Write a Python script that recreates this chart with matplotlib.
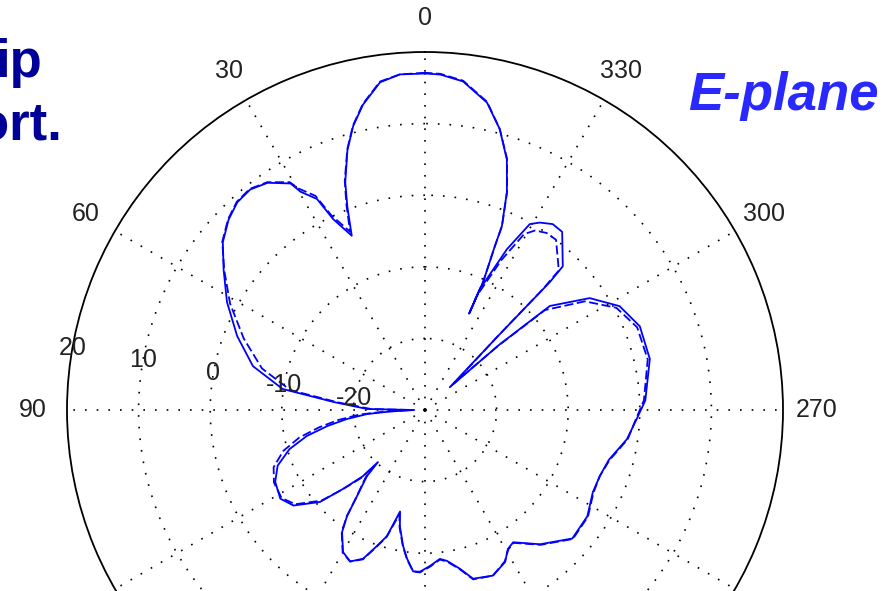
import matplotlib.pyplot as plt
import numpy as np

# E-plane pattern, angle in degrees (0 = broadside, counter-clockwise) and gain in dB
angle_deg = [0.0, 4.3, 7.8, 11.5, 14.2, 16.6, 19.3, 20.9, 22.8, 25.7, 27.1, 29.7,
             30.7, 34.7, 38.4, 42.1, 45.9, 50.3, 55.1, 61.4, 68.5, 75.7, 81.6, 85.0,
             89.0, 90.0, 92.5, 94.0, 96.6, 99.3, 102.4, 106.1, 110.7, 115.6, 121.5,
             126.0, 131.2, 133.9, 136.8, 137.9, 138.7, 141.7, 143.7, 145.8, 150.0,
             153.7, 157.4, 160.6, 163.2, 166.2, 167.8, 170.8, 173.1, 175.8, 178.2,
             181.8, 185.7, 188.3, 192.4, 195.9, 202.3, 207.8, 210.8, 213.7, 220.6,
             228.9, 236.8, 243.9, 249.3, 254.8, 261.8, 267.6, 272.5, 282.8, 291.3,
             298.1, 304.2, 309.8, 311.3, 312.6, 315.4, 315.7, 316.2, 322.4, 325.5,
             328.5, 330.6, 333.0, 335.6, 335.4, 335.6, 336.9, 337.3, 339.4, 341.9,
             345.1, 348.6, 353.4, 357.4, 360.0]

measured_db = [17.0, 17.0, 16.2, 13.5, 10.9, 7.9, 3.7, 0.4, -3.6, -0.4, 3.1, 5.1,
               6.8, 8.6, 9.3, 9.1, 8.2, 6.7, 4.3, 1.5, -1.8, -5.2, -9.9, -17.2,
               -21.9, -28.5, -25.0, -21.9, -19.0, -16.2, -13.1, -10.3, -8.0, -6.8, -6.3,
               -7.3, -10.5, -14.1, -17.3, -20.2, -17.7, -14.7, -11.6, -9.4, -7.1,
               -6.4, -7.5, -9.9, -11.6, -15.4, -13.4, -10.8, -9.1, -7.4, -7.4,
               -8.2, -9.1, -8.7, -7.3, -5.5, -5.0, -6.0, -7.4, -7.8, -5.3,
               -2.7, -2.9, -3.9, -3.9, -3.4, -1.5, -0.4, 0.8, 2.2, 2.2,
               0.8, -2.2, -7.3, -16.1, -25.3, -15.1, -5.0, -2.2, 1.4, 1.5,
               0.7, -0.2, -4.8, -11.5, -15.2, -10.3, -5.2, -2.2, 2.5, 6.8,
               10.6, 13.8, 16.2, 16.9, 17.0]

simulated_db = [17.1, 17.0, 16.3, 13.6, 11.0, 8.0, 3.9, 0.8, -3.0, 0.2, 3.6, 5.6,
                7.0, 8.7, 9.4, 9.2, 8.3, 6.8, 4.2, 1.0, -2.8, -6.5, -11.0, -17.8,
                -22.5, -28.0, -24.0, -20.8, -17.8, -15.0, -12.0, -9.4, -7.4, -6.6, -6.5,
                -7.6, -10.8, -14.0, -17.0, -19.5, -17.4, -14.6, -11.5, -9.3, -7.0,
                -6.4, -7.4, -9.8, -11.5, -15.0, -13.2, -10.7, -9.0, -7.4, -7.3,
                -8.1, -9.0, -8.6, -7.2, -5.4, -5.0, -6.1, -7.3, -7.7, -5.2,
                -2.6, -2.8, -3.8, -3.9, -3.3, -1.4, -0.5, 0.6, 1.9, 1.8,
                0.3, -3.0, -8.2, -16.5, -24.5, -15.8, -6.5, -3.0, 0.0, 0.0,
                -0.6, -1.8, -6.5, -12.5, -15.0, -10.3, -5.1, -2.1, 2.6, 6.9,
                10.6, 13.9, 16.3, 17.0, 17.1]

angle_ticks = list(range(0, 360, 30))
angle_labels = [0, 30, 60, 90, 270, 300, 330]   # the lower half falls below the figure edge
ring_levels = [-20, -10, 0, 10, 20]

fig = plt.figure(figsize=(8.85, 5.91), dpi=100)
ax = fig.add_axes([67 / 885, (591 - 768) / 591, 716 / 885, 716 / 591], projection='polar')
ax.set_theta_zero_location('N')
ax.set_theta_direction(1)
ax.set_rlim(-30, 20)

ax.set_thetagrids(angle_ticks, labels=[])
ax.set_rgrids(ring_levels[:-1], labels=[])
ax.grid(True, color='black', linestyle=(0, (1, 6)), linewidth=1.2)
ax.spines['polar'].set_color('black')
ax.spines['polar'].set_linewidth(1.3)

th = np.deg2rad(angle_deg)
ax.plot(th, simulated_db, color='#0000ff', linewidth=1.3, linestyle=(0, (5, 2)))
ax.plot(th, measured_db, color='#0000ff', linewidth=1.3)

label_font = dict(family='Liberation Sans', fontsize=18, color='#222222')
for a in angle_labels:
    ax.text(np.deg2rad(a), 24.75, str(a), ha='center', va='center', **label_font)
for v in ring_levels:
    ax.text(np.deg2rad(80), v, str(v), ha='center', va='center', **label_font)

fig.text(783 / 885, 1 - 110 / 591, 'E-plane', ha='center', va='baseline',
         family='Liberation Sans', fontsize=38, fontweight='bold', fontstyle='italic',
         color='#2828ff')
fig.text(42 / 885, 1 - 77 / 591, 'ip', ha='right', va='baseline',
         family='Liberation Sans', fontsize=38, fontweight='bold', color='#000099')
fig.text(62 / 885, 1 - 140 / 591, 'ort.', ha='right', va='baseline',
         family='Liberation Sans', fontsize=38, fontweight='bold', color='#000099')

fig.savefig('out.png', dpi=100)
